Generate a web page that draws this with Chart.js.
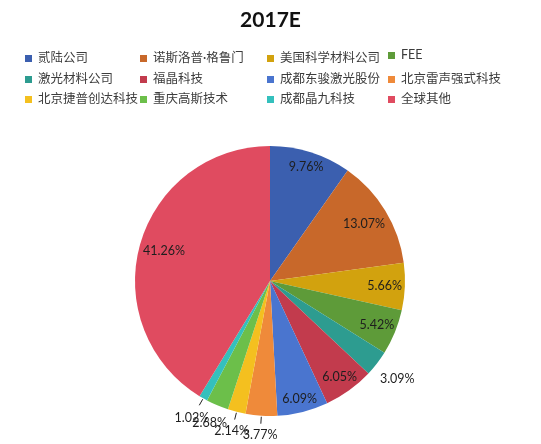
<!DOCTYPE html>
<html>
<head>
<meta charset="utf-8">
<script src="https://cdn.jsdelivr.net/npm/chart.js@4/dist/chart.umd.min.js"></script>
<style>
  html, body { margin: 0; padding: 0; background: #fff; }
  #wrap { position: relative; width: 541px; height: 444px; overflow: hidden; }
  #pie { position: absolute; left: 0; top: 0; }
  #title {
    position: absolute; left: 0; top: 6px; width: 541px; text-align: center;
    font: bold 21px Lato, "Liberation Sans", sans-serif; color: #111;
  }
  #legend { position: absolute; left: 0; top: 0; width: 541px; height: 120px; }
  .item {
    position: absolute; height: 18px; line-height: 18px; white-space: nowrap;
    font: 12.5px Lato, "Noto Sans CJK SC", sans-serif; color: #3c3c3c;
  }
  .item i {
    display: inline-block; width: 7px; height: 7px; margin-right: 6px;
    vertical-align: 0px;
  }
</style>
</head>
<body>
<div id="wrap">
  <canvas id="pie" width="541" height="444"></canvas>
  <div id="title">2017E</div>
  <div id="legend"></div>
</div>
<script>
// Market share by company, 2017E (percent)
const categories = ['贰陆公司', '诺斯洛普·格鲁门', '美国科学材料公司', 'FEE',
  '激光材料公司', '福晶科技', '成都东骏激光股份', '北京雷声强式科技',
  '北京捷普创达科技', '重庆高斯技术', '成都晶九科技', '全球其他'];
const shares = [9.76, 13.07, 5.66, 5.42, 3.09, 6.05, 6.09, 3.77, 2.14, 2.68, 1.02, 41.26];

const sliceColors = ['#3b5faf', '#c8682a', '#d2a20e', '#5e9b39', '#2d9c90', '#c23b4d',
  '#4a75cf', '#ef8a3a', '#f4c01f', '#6cbf4a', '#34c0bd', '#e04b60'];

// Label distance from the centre, as a fraction of the radius
const labelDist = [0.885, 0.815, 0.85, 0.855, 1.19, 0.88, 0.9, 1.14, 1.15, 1.145, 1.17, 0.815];
// Slices whose outside label gets a short leader line
const withLeader = [7, 8, 10];

// Legend laid out on a fixed 4-column grid
const legendCols = [25, 140, 267, 388];
const legendRows = [47, 68, 88];
const legendEl = document.getElementById('legend');
categories.forEach((name, i) => {
  const d = document.createElement('div');
  d.className = 'item';
  d.style.left = legendCols[i % 4] + 'px';
  d.style.top = legendRows[Math.floor(i / 4)] + 'px';
  const sw = document.createElement('i');
  sw.style.background = sliceColors[i];
  d.appendChild(sw);
  d.appendChild(document.createTextNode(name));
  legendEl.appendChild(d);
});

const percentLabels = {
  id: 'percentLabels',
  afterDatasetsDraw(chart) {
    const ctx = chart.ctx;
    const meta = chart.getDatasetMeta(0);
    ctx.save();
    ctx.font = '12.5px Lato, "Liberation Sans", sans-serif';
    ctx.fillStyle = '#1e1e1e';
    ctx.textAlign = 'center';
    ctx.textBaseline = 'middle';
    meta.data.forEach((arc, i) => {
      const p = arc.getProps(['x', 'y', 'startAngle', 'endAngle', 'outerRadius'], true);
      const mid = (p.startAngle + p.endAngle) / 2;
      const r = p.outerRadius * labelDist[i];
      const tx = p.x + Math.cos(mid) * r;
      const ty = p.y + Math.sin(mid) * r;
      if (withLeader.includes(i)) {
        ctx.strokeStyle = '#222';
        ctx.lineWidth = 1;
        ctx.beginPath();
        const r0 = p.outerRadius + 1;
        const r1 = p.outerRadius + 8;
        ctx.moveTo(p.x + Math.cos(mid) * r0, p.y + Math.sin(mid) * r0);
        ctx.lineTo(p.x + Math.cos(mid) * r1, p.y + Math.sin(mid) * r1);
        ctx.stroke();
      }
      ctx.fillText(shares[i].toFixed(2) + '%', tx, ty);
    });
    ctx.restore();
  }
};

new Chart(document.getElementById('pie'), {
  type: 'pie',
  data: {
    labels: categories,
    datasets: [{
      data: shares,
      backgroundColor: sliceColors,
      borderWidth: 0
    }]
  },
  options: {
    responsive: false,
    animation: false,
    layout: { padding: { top: 146, bottom: 28, left: 135, right: 136 } },
    plugins: {
      legend: { display: false },
      tooltip: { enabled: false }
    }
  },
  plugins: [percentLabels]
});
</script>
</body>
</html>
